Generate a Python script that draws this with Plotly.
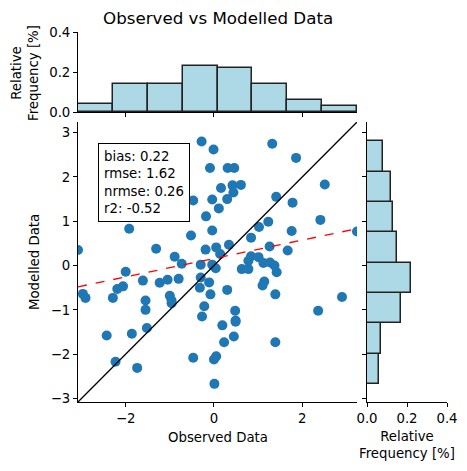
import numpy as np
import plotly.graph_objects as go

# ---- data ----
observed = [
    -3.08, -0.28, -0.01, -0.09, 0.31, 0.46, 0.16, 0.42, 0.61, 0.44,
    -0.47, -0.04, 0.30, 0.11, -0.18, -1.94, -1.92, 1.32, 1.86, 2.51,
    1.41, 1.78, 1.23, 1.02, 2.41, -0.04, 1.76, 0.84, -0.52, 0.34,
    0.05, -0.19, 1.26, 1.67, 3.24, 0.14, -1.31, -0.89, -0.73, 0.84,
    1.01, 0.78, 1.12, 1.27, 1.37, -0.30, -0.04, 0.04, 0.63, 0.78,
    1.42, 1.14, 1.10, 1.39, 2.90, 2.36, -0.30, -0.11, -0.32, -0.08,
    0.30, -0.22, -0.27, 0.48, 0.49, 0.49, 0.19, 0.45, 0.23, 1.39,
    0.05, 0.00, 0.01, -2.00, -1.61, -1.23, -1.05, -0.80, -2.97, -2.91,
    -2.29, -2.19, -2.06, -1.55, -1.55, -1.00, -0.96, -0.96, -1.52, -2.43,
    -1.86, -0.47, -2.23, -1.74, -1.85, -1.20, -0.95, -1.35, -0.80, -1.05,
]
modelled = [
    0.35, 2.80, 2.62, 2.20, 2.20, 2.20, 1.75, 1.81, 1.82, 1.65,
    1.47, 1.49, 1.50, 1.29, 1.11, 1.09, 0.83, 2.75, 2.43, 1.83,
    1.55, 1.42, 0.99, 0.87, 1.03, 0.79, 0.78, 0.63, 0.68, 0.47,
    0.41, 0.36, 0.43, 0.34, 0.77, 0.26, 0.38, 0.20, 0.04, 0.21,
    0.19, 0.11, 0.06, 0.07, 0.00, 0.02, 0.02, -0.06, -0.08, -0.08,
    -0.15, -0.36, -0.45, -0.65, -0.71, -1.02, -0.27, -0.38, -0.50, -0.65,
    -0.55, -0.92, -1.15, -1.02, -1.24, -1.27, -1.35, -1.60, -1.73, -1.73,
    -2.05, -2.12, -2.67, -0.14, -0.34, -0.39, -0.32, -0.30, -0.64, -0.73,
    -0.73, -0.53, -0.47, -0.79, -1.00, -0.68, -0.79, -0.85, -1.41, -1.58,
    -1.54, -2.08, -2.17, -2.31, 1.38, 1.32, 1.62, 1.85, 2.00, 2.35,
]
stat_names = ["bias", "rmse", "nrmse", "r2"]
stat_values = ["0.22", "1.62", "0.26", "-0.52"]
main_x_ticks = [-2, 0, 2]
main_y_ticks = [-3, -2, -1, 0, 1, 2, 3]
freq_ticks = [0.0, 0.2, 0.4]
n_bins = 8

obs = np.array(observed)
mod = np.array(modelled)
lo = float(min(obs.min(), mod.min()))
hi = float(max(obs.max(), mod.max()))

W, H = 467, 471
FONT = "DejaVu Sans"
FS = 13.3

main_xd = [78 / W, 357 / W]
main_yd = [1 - 402 / H, 1 - 122 / H]
top_yd = [1 - 112.3 / H, 1 - 32 / H]
right_xd = [367 / W, 447 / W]

cnt_o, edges_o = np.histogram(obs, bins=n_bins)
cnt_m, edges_m = np.histogram(mod, bins=n_bins)
freq_o = cnt_o / len(obs)
freq_m = cnt_m / len(mod)

slope, icpt = np.polyfit(obs, mod, 1)

fig = go.Figure()
fig.add_trace(go.Scatter(x=obs, y=mod, mode="markers",
                         marker=dict(color="#1f77b4", size=10),
                         xaxis="x", yaxis="y", showlegend=False))
fig.add_trace(go.Scatter(x=[lo, hi], y=[lo, hi], mode="lines",
                         line=dict(color="black", width=1.3),
                         xaxis="x", yaxis="y", showlegend=False))
fig.add_trace(go.Scatter(x=[lo, hi], y=[slope * lo + icpt, slope * hi + icpt],
                         mode="lines", line=dict(color="red", width=1.3, dash="dash"),
                         xaxis="x", yaxis="y", showlegend=False))
bar_style = dict(color="#ADD8E6", line=dict(color="#222222", width=1.5))
fig.add_trace(go.Bar(x=(edges_o[:-1] + edges_o[1:]) / 2, y=freq_o,
                     width=np.diff(edges_o), marker=bar_style,
                     xaxis="x2", yaxis="y2", showlegend=False))
fig.add_trace(go.Bar(y=(edges_m[:-1] + edges_m[1:]) / 2, x=freq_m,
                     width=np.diff(edges_m), orientation="h", marker=bar_style,
                     xaxis="x3", yaxis="y3", showlegend=False))

ax_common = dict(showgrid=False, zeroline=False, showline=True, linecolor="black",
                 linewidth=1, ticks="outside", ticklen=4, tickwidth=1, automargin=False,
                 tickcolor="black", tickfont=dict(family=FONT, size=FS, color="black"))

fig.update_layout(
    template="none",
    width=W, height=H, margin=dict(l=0, r=0, t=0, b=0, pad=0, autoexpand=False),
    paper_bgcolor="white", plot_bgcolor="white", bargap=0,
    font=dict(family=FONT, size=FS, color="black"),
    xaxis=dict(domain=main_xd, range=[lo, hi], tickvals=main_x_ticks, anchor="y", **ax_common),
    yaxis=dict(domain=main_yd, range=[lo, hi], tickvals=main_y_ticks, anchor="x", **ax_common),
    xaxis2=dict(domain=main_xd, range=[lo, hi], tickvals=main_x_ticks, showticklabels=False,
                anchor="y2", **ax_common),
    yaxis2=dict(domain=top_yd, range=[0, 0.4], tickvals=freq_ticks, tickformat=".1f",
                anchor="x2", **ax_common),
    xaxis3=dict(domain=right_xd, range=[0, 0.4], tickvals=freq_ticks, tickformat=".1f",
                anchor="y3", **ax_common),
    yaxis3=dict(domain=main_yd, range=[lo, hi], tickvals=main_y_ticks, showticklabels=False,
                anchor="x3", **ax_common),
)

stats_text = "<br>".join(f"{n}: {v}" for n, v in zip(stat_names, stat_values))

def ann(text, x, y, size=FS, angle=0, xanchor="center", yanchor="middle", **kw):
    fig.add_annotation(text=text, x=x / W, y=1 - y / H, xref="paper", yref="paper",
                       showarrow=False, textangle=angle, xanchor=xanchor, yanchor=yanchor,
                       font=dict(family=FONT, size=size, color="black"), **kw)

ann("Observed vs Modelled Data", 217.5, 18, size=16.7)
ann("Observed Data", 217.5, 437)
ann("Modelled Data", 34, 262, angle=-90)
ann("Relative<br>Frequency [%]", 25, 73, angle=-90)
ann("Relative<br>Frequency [%]", 407, 445)
ann(stats_text, 98.3, 143.3, xanchor="left", yanchor="top", align="left",
    bordercolor="black", borderwidth=1, borderpad=5, bgcolor="white")

fig.write_html("out.html")
